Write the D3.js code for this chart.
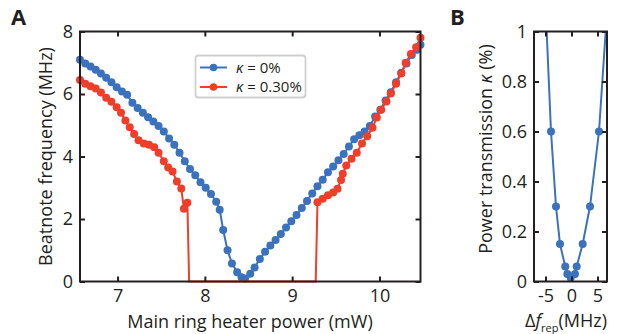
<!DOCTYPE html>
<html>
<head>
<meta charset="utf-8">
<script src="https://cdn.jsdelivr.net/npm/d3@7"></script>
<style>
  body { margin: 0; background: #fff; }
  svg { font-family: "Open Sans", "Noto Sans", sans-serif; }
</style>
</head>
<body>
<div id="chart"></div>
<script>
// panel A: beatnote vs heater power
const blueX = [6.57, 6.63, 6.69, 6.75, 6.81, 6.87, 6.93, 6.99, 7.05, 7.11, 7.17, 7.23, 7.29, 7.35, 7.41, 7.47,
  7.53, 7.59, 7.65, 7.71, 7.77, 7.83, 7.89, 7.95, 8.01, 8.07, 8.13, 8.17, 8.21, 8.26, 8.31, 8.37, 8.42, 8.46,
  8.52, 8.57, 8.63, 8.69, 8.75, 8.81, 8.87, 8.93, 8.99, 9.05, 9.11, 9.17, 9.23, 9.29, 9.35, 9.41, 9.47, 9.53,
  9.59, 9.65, 9.71, 9.77, 9.83, 9.89, 9.95, 10.01, 10.07, 10.13, 10.19, 10.25, 10.31, 10.37, 10.43, 10.47];
const blueY = [7.10, 6.98, 6.88, 6.78, 6.66, 6.52, 6.38, 6.22, 6.08, 5.98, 5.72, 5.55, 5.40, 5.26, 5.12, 4.98,
  4.80, 4.58, 4.38, 4.12, 3.85, 3.60, 3.40, 3.18, 3.00, 2.80, 2.55, 2.30, 1.65, 1.00, 0.58, 0.30, 0.14, 0.10,
  0.25, 0.45, 0.72, 0.95, 1.15, 1.33, 1.52, 1.73, 1.93, 2.13, 2.35, 2.58, 2.82, 3.05, 3.26, 3.50, 3.68, 3.88,
  4.08, 4.32, 4.55, 4.68, 4.80, 4.98, 5.28, 5.50, 5.79, 6.06, 6.38, 6.68, 6.98, 7.25, 7.42, 7.58];

const redX = [6.57, 6.63, 6.69, 6.75, 6.81, 6.87, 6.93, 6.99, 7.04, 7.09, 7.14, 7.19, 7.24, 7.30, 7.36, 7.42,
  7.47, 7.53, 7.58, 7.63, 7.68, 7.73, 7.76, 7.80, 7.82, 7.88, 7.94, 8.00, 8.06, 8.12, 8.18, 8.24, 8.30, 8.36,
  8.42, 8.48, 8.54, 8.60, 8.66, 8.72, 8.78, 8.84, 8.90, 8.96, 9.02, 9.08, 9.14, 9.20, 9.27, 9.29, 9.35, 9.41,
  9.47, 9.52, 9.56, 9.58, 9.62, 9.68, 9.74, 9.80, 9.86, 9.92, 9.97, 10.02, 10.08, 10.13, 10.19, 10.25, 10.30,
  10.36, 10.42, 10.47];
const redY = [6.45, 6.33, 6.25, 6.18, 6.05, 5.88, 5.75, 5.58, 5.40, 5.15, 4.94, 4.72, 4.52, 4.42, 4.38, 4.30,
  4.12, 3.85, 3.65, 3.52, 3.20, 2.98, 2.33, 2.52, 0, 0, 0, 0, 0, 0, 0, 0, 0, 0,
  0, 0, 0, 0, 0, 0, 0, 0, 0, 0, 0, 0, 0, 0, 0, 2.54, 2.65, 2.76,
  2.85, 2.97, 3.25, 3.45, 3.71, 3.93, 4.12, 4.42, 4.65, 4.92, 5.25, 5.50, 5.76, 6.02, 6.33, 6.66, 7.00,
  7.28, 7.50, 7.80];

// panel B: transmission vs detuning
const detX = [-5.19, -3.94, -2.98, -2.21, -1.20, -0.80, -0.15, 0.67, 1.00, 2.15, 3.56, 5.29, 7.22];
const kappaY = [1.2, 0.6, 0.3, 0.15, 0.06, 0.03, 0.015, 0.03, 0.06, 0.15, 0.3, 0.6, 1.2];

const xTicksA = [7, 8, 9, 10];
const yTicksA = [0, 2, 4, 6, 8];
const xTicksB = [-5, 0, 5];
const yTicksB = [0, 0.2, 0.4, 0.6, 0.8, 1];

const blue = "#3b72bd", red = "#ef3e2a", axisCol = "#231f20";
const fs = "18px";

const svg = d3.select("#chart").append("svg")
  .attr("width", 620).attr("height", 334);

const blueData = blueX.map((x, i) => ({ x: x, y: blueY[i] }));
const redData = redX.map((x, i) => ({ x: x, y: redY[i] }));
const bData = detX.map((x, i) => ({ x: x, y: kappaY[i] }));

const plain = d => String(d);

function frame(g, x, y, xt, yt) {
  const [x0, x1] = x.range(), [y0, y1] = y.range();
  g.append("g").attr("transform", "translate(0," + y0 + ")")
    .call(d3.axisBottom(x).tickValues(xt).tickSizeInner(-5).tickSizeOuter(0).tickPadding(8).tickFormat(plain));
  g.append("g").attr("transform", "translate(0," + y1 + ")")
    .call(d3.axisTop(x).tickValues(xt).tickSizeInner(-5).tickSizeOuter(0).tickFormat(""));
  g.append("g").attr("transform", "translate(" + x0 + ",0)")
    .call(d3.axisLeft(y).tickValues(yt).tickSizeInner(-5).tickSizeOuter(0).tickPadding(7).tickFormat(plain));
  g.append("g").attr("transform", "translate(" + x1 + ",0)")
    .call(d3.axisRight(y).tickValues(yt).tickSizeInner(-5).tickSizeOuter(0).tickFormat(""));
  g.selectAll(".domain").remove();
  g.selectAll(".tick line").attr("stroke", axisCol).attr("stroke-width", 2);
  g.selectAll(".tick text").attr("fill", axisCol).style("font-size", fs)
    .style("font-family", "'Open Sans', sans-serif");
  g.append("rect")
    .attr("x", x0).attr("y", y1).attr("width", x1 - x0).attr("height", y0 - y1)
    .attr("fill", "none").attr("stroke", axisCol).attr("stroke-width", 2);
}

function series(g, data, col, x, y) {
  const line = d3.line().x(d => x(d.x)).y(d => y(d.y));
  g.append("path").datum(data)
    .attr("d", line).attr("fill", "none").attr("stroke", col).attr("stroke-width", 2);
  g.selectAll(null).data(data.filter(d => d.y > 0)).enter().append("circle")
    .attr("cx", d => x(d.x)).attr("cy", d => y(d.y)).attr("r", 4).attr("fill", col);
}

// ---- panel A
const xA = d3.scaleLinear().domain([6.57, 10.47]).range([80, 420.5]);
const yA = d3.scaleLinear().domain([0, 8]).range([281.5, 31.5]);
const gA = svg.append("g");
series(gA, blueData, blue, xA, yA);
series(gA, redData, red, xA, yA);
frame(gA, xA, yA, xTicksA, yTicksA);

// legend
const leg = gA.append("g");
leg.append("rect").attr("x", 195.5).attr("y", 55.5).attr("width", 110).attr("height", 42)
  .attr("rx", 3).attr("fill", "#fff").attr("stroke", "#cfcfcf").attr("stroke-width", 1.8);
[["0%", blue], ["0.30%", red]].forEach((e, i) => {
  const cy = 67.5 + i * 19.5;
  leg.append("line").attr("x1", 200).attr("x2", 227).attr("y1", cy).attr("y2", cy)
    .attr("stroke", e[1]).attr("stroke-width", 2);
  leg.append("circle").attr("cx", 213.5).attr("cy", cy).attr("r", 3.8).attr("fill", e[1]);
  const t = leg.append("text").attr("x", 236).attr("y", cy + 5).style("font-size", "15px").attr("fill", axisCol);
  t.append("tspan").style("font-style", "italic").text("κ");
  t.append("tspan").text(" = " + e[0]);
});

svg.append("text").attr("x", 250).attr("y", 328).attr("text-anchor", "middle")
  .style("font-size", fs).attr("fill", axisCol).text("Main ring heater power (mW)");
svg.append("text").attr("transform", "translate(52,156.5) rotate(-90)").attr("text-anchor", "middle")
  .style("font-size", fs).attr("fill", axisCol).text("Beatnote frequency (MHz)");
svg.append("text").attr("x", 11).attr("y", 25).style("font-size", "22px").style("font-weight", "bold")
  .attr("fill", axisCol).text("A");

// ---- panel B
const xB = d3.scaleLinear().domain([-7.21, 6.83]).range([534, 607]);
const yB = d3.scaleLinear().domain([0, 1]).range([281.5, 31.5]);
const gB = svg.append("g");
gB.append("clipPath").attr("id", "clipB").append("rect")
  .attr("x", 534).attr("y", 31.5).attr("width", 73).attr("height", 250);
const gBd = gB.append("g").attr("clip-path", "url(#clipB)");
series(gBd, bData, blue, xB, yB);
frame(gB, xB, yB, xTicksB, yTicksB);

const tb = svg.append("text").attr("x", 566).attr("y", 327).attr("text-anchor", "middle")
  .style("font-size", fs).attr("fill", axisCol);
tb.append("tspan").text("Δ");
tb.append("tspan").style("font-style", "italic").text("f");
tb.append("tspan").attr("dy", 5).style("font-size", "11px").text("rep");
tb.append("tspan").attr("dy", -5).text("(MHz)");
const ty = svg.append("text").attr("transform", "translate(492,149) rotate(-90)").attr("text-anchor", "middle")
  .style("font-size", fs).attr("fill", axisCol);
ty.append("tspan").text("Power transmission ");
ty.append("tspan").style("font-style", "italic").text("κ");
ty.append("tspan").text(" (%)");
svg.append("text").attr("x", 450).attr("y", 25).style("font-size", "22px").style("font-weight", "bold")
  .attr("fill", axisCol).text("B");
</script>
</body>
</html>
